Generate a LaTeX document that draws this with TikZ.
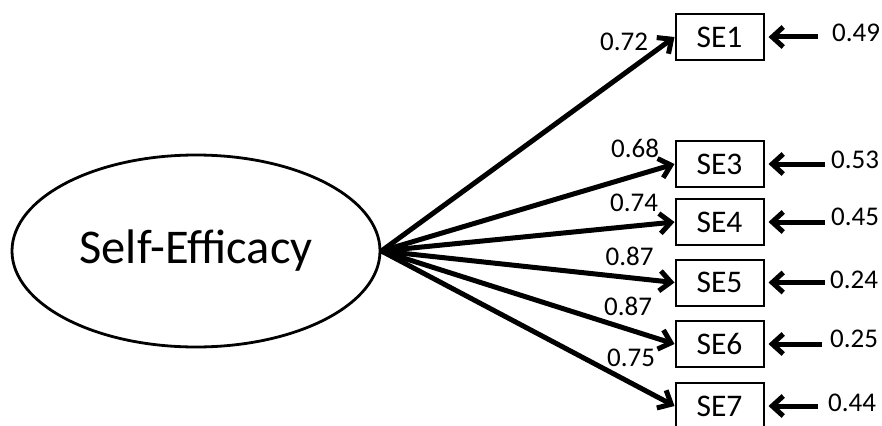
\documentclass[tikz,border=0pt]{standalone}
\usepackage{fontspec}
\setmainfont{Carlito}
\usetikzlibrary{arrows.meta,shapes.geometric}
\begin{document}
\begin{tikzpicture}[x=1pt,y=-1pt,
  latent/.style={ellipse,draw,line width=2.8pt,minimum width=368pt,minimum height=192pt,inner sep=0pt,font=\fontsize{48.5}{52}\selectfont},
  item/.style={rectangle,draw,line width=2pt,minimum width=88pt,minimum height=46pt,inner sep=0pt,font=\fontsize{31.5}{34}\selectfont},
  val/.style={inner sep=0pt,font=\fontsize{27}{30}\selectfont},
  head/.style={-{Straight Barb[length=11pt,width=20pt,line join=miter]}},
  path/.style={line width=5pt,head},
  err/.style={line width=5pt,head,shorten >=4pt}]
  \clip (0,0) rectangle (882,425);
  \useasboundingbox (0,0) rectangle (882,425);

  % latent factor
  \node[latent] (lat) at (196,251) {Self-Efficacy};

  % indicators
  \node[item] (se1) at (719.5,37)  {SE1};
  \node[item] (se3) at (719.5,164) {SE3};
  \node[item] (se4) at (719.5,222) {SE4};
  \node[item] (se5) at (719.5,282.5) {SE5};
  \node[item] (se6) at (719.5,344) {SE6};
  \node[item] (se7) at (719.5,406) {SE7};

  % loadings
  \foreach \n in {se1,se3,se4,se5,se6,se7}
    \draw[path] (lat.east) -- (\n.west);

  \node[val] (l1) at (624,41.5) {0.72};
  \node[val] (l3) at (635,148) {0.68};
  \node[val] (l4) at (634,203) {0.74};
  \node[val] (l5) at (629.5,256) {0.87};
  \node[val] (l6) at (628,306) {0.87};
  \node[val] (l7) at (631,358) {0.75};

  % error terms
  \coordinate (e1) at (818,37);
  \coordinate (e3) at (825,164);
  \coordinate (e4) at (825,222);
  \coordinate (e5) at (825,282.5);
  \coordinate (e6) at (822,344);
  \coordinate (e7) at (818,406);
  \foreach \n in {1,3,4,5,6,7}
    \draw[err] (e\n) -- (se\n.east);

  \node[val,anchor=west] (r1) at (832,33)  {0.49};
  \node[val,anchor=west] (r3) at (831,160) {0.53};
  \node[val,anchor=west] (r4) at (831,217) {0.45};
  \node[val,anchor=west] (r5) at (830,280) {0.24};
  \node[val,anchor=west] (r6) at (830,339) {0.25};
  \node[val,anchor=west] (r7) at (828,403) {0.44};
\end{tikzpicture}
\end{document}
